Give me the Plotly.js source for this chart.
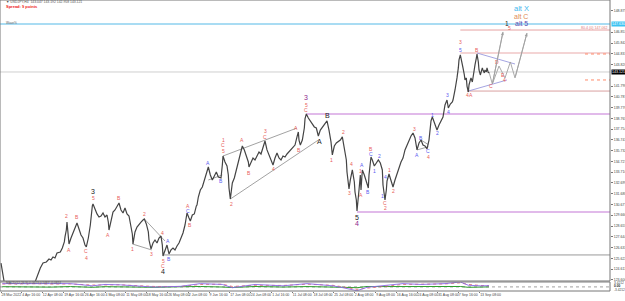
<!DOCTYPE html>
<html><head><meta charset="utf-8">
<script src="https://cdn.plot.ly/plotly-3.0.1.min.js"></script>
<style>html,body{margin:0;padding:0;background:#fff;}#chart{width:625px;height:301px;}</style>
</head><body><div id="chart"></div>
<script>
// ---- price path (H4 bar index, price) ----
const pricePath = [[0,125.18],[2,124.34],[5,123.31],[9,122.46],[14,121.71],[18,121.52],[23,122.09],[27,121.90],[32,122.37],[36,122.65],[41,122.84],[45,122.74],[50,123.21],[53,123.78],[56,124.15],[59,124.72],[63,125.18],[68,125.28],[72,125.56],[75,125.47],[78,125.75],[81,125.65],[84,126.12],[89,126.22],[92,126.59],[95,127.16],[96,127.63],[98,128.28],[99,129.03],[101,127.81],[102,126.97],[105,127.53],[108,128.10],[111,128.47],[114,128.94],[117,128.28],[120,127.81],[123,127.53],[126,126.87],[128,126.69],[131,127.53],[134,128.75],[135,129.69],[137,130.54],[138,130.72],[141,130.16],[144,129.79],[147,129.50],[150,129.60],[153,129.88],[156,129.50],[159,129.69],[161,129.03],[162,128.28],[165,129.22],[168,129.97],[171,130.16],[174,130.44],[177,130.82],[180,130.16],[183,129.88],[186,130.35],[189,129.79],[192,129.60],[195,128.75],[197,127.91],[198,126.97],[201,128.10],[204,128.56],[207,128.85],[210,129.03],[213,129.22],[215,129.32],[218,128.85],[221,128.10],[222,127.34],[225,126.50],[228,127.06],[231,127.34],[234,127.06],[237,127.53],[240,127.72],[242,126.87],[243,125.84],[246,126.41],[249,126.87],[252,126.03],[255,126.41],[258,126.59],[261,126.41],[264,126.78],[267,127.06],[270,127.53],[273,128.00],[276,128.75],[278,129.41],[279,129.88],[282,129.41],[284,129.13],[287,129.69],[290,129.79],[293,130.54],[294,130.63],[296,131.38],[299,132.04],[302,132.32],[305,132.98],[308,133.73],[311,134.20],[314,133.45],[317,132.98],[320,133.35],[323,133.73],[326,133.26],[330,133.17],[332,134.39],[333,135.23],[336,134.67],[339,134.29],[341,133.45],[342,132.23],[344,131.19],[347,132.70],[350,133.17],[353,133.92],[356,134.57],[359,135.33],[362,136.17],[365,135.80],[368,135.23],[371,134.67],[372,134.20],[375,134.57],[378,135.04],[381,134.86],[384,135.33],[387,135.61],[390,135.42],[393,135.98],[396,136.64],[399,135.80],[402,135.33],[405,134.86],[408,134.39],[411,135.04],[414,135.51],[417,135.04],[420,134.86],[423,135.23],[426,135.14],[429,135.42],[432,135.61],[435,135.80],[438,135.98],[441,136.26],[444,137.02],[446,137.49],[447,136.73],[449,136.26],[452,136.73],[455,137.86],[456,138.71],[458,139.18],[461,138.80],[464,138.52],[467,138.24],[470,137.96],[473,137.86],[476,137.11],[479,137.67],[482,137.96],[485,138.24],[488,138.42],[489,138.52],[492,137.67],[495,136.55],[497,135.33],[500,136.17],[503,136.45],[506,136.55],[509,136.73],[512,137.02],[515,135.98],[518,134.86],[519,133.73],[521,132.51],[522,132.13],[524,132.98],[527,133.92],[530,132.79],[531,131.85],[533,131.10],[534,130.07],[537,132.04],[539,133.45],[540,132.04],[542,133.92],[545,133.45],[548,132.79],[551,132.23],[552,133.45],[554,134.67],[555,135.14],[557,134.86],[560,134.29],[563,134.57],[566,134.86],[569,134.57],[572,133.92],[573,132.51],[576,131.10],[578,132.04],[579,132.88],[582,133.54],[585,132.98],[588,132.32],[591,132.98],[594,133.64],[597,134.11],[600,134.67],[603,135.04],[606,135.80],[609,136.26],[612,136.73],[615,137.11],[618,137.39],[621,136.92],[624,135.80],[627,136.45],[630,136.73],[633,136.26],[636,136.17],[639,135.89],[642,136.73],[644,137.67],[645,138.52],[647,138.89],[650,138.42],[653,137.86],[654,137.67],[657,138.14],[660,138.61],[663,138.89],[666,140.02],[669,140.49],[671,139.74],[674,140.11],[677,140.30],[678,140.49],[681,141.43],[683,141.99],[684,142.56],[686,143.50],[687,144.25],[689,144.72],[690,144.43],[692,144.06],[693,143.50],[695,142.84],[696,142.37],[698,142.56],[699,141.80],[701,141.24],[702,141.90],[704,142.37],[705,142.56],[707,142.18],[708,142.65],[710,143.12],[711,143.78],[713,144.43],[714,144.81],[716,144.06],[717,143.31],[719,142.84],[720,143.12],[722,143.50],[723,143.31],[725,143.03],[726,143.31],[728,143.12],[729,143.50],[731,143.03],[732,143.12]];

// ---- axis labels ----
const xTickBars = [0,31,62,94,125,156,187,218,250,281,312,343,374,406,437,468,499,530,562,593,624,655,686,718];
const xTickLabels = ["28 Mar 2022","4 Apr 16:00","12 Apr 08:00","19 Apr 16:00","26 Apr 16:00","4 May 08:00","11 May 08:00","18 May 16:00","26 May 08:00","2 Jun 08:00","9 Jun 16:00","17 Jun 08:00","24 Jun 08:00","1 Jul 16:00","11 Jul 08:00","18 Jul 08:00","25 Jul 08:00","2 Aug 08:00","9 Aug 08:00","16 Aug 16:00","24 Aug 08:00","31 Aug 08:00","7 Sep 16:00","13 Sep 08:00"];
const yTickPrices = [148.875,146.853,145.842,144.831,143.820,141.798,140.787,139.776,138.765,137.754,136.743,135.732,134.721,133.710,132.699,131.688,130.677,129.666,128.655,127.644,126.633,125.622,124.611,123.600];

// ---- horizontal levels ----
const levelPrices = [147.63,147.06,144.90,143.12,141.33,139.18,129.97,125.94];
const levelStartBars = [-2,689,689,-2,699,458,534,243];
const levelColors = ['#a9dcf3','#e6a3a3','#f1c6c6','#cfcfcf','#d9a0a0','#d7a3e3','#d7a3e3','#9a9a9a'];
const levelWidths = [2,1,1.5,1,1,1.5,1.5,1];
const dottedPrices = [144.81,142.37];
const dottedStartBar = 876;

// ---- trend lines [bar1, price1, bar2, price2] ----
const trendLines = [[197,126.97,226,126.41],[215,129.32,246,127.25],[333,135.23,444,137.86],[344,131.19,476,136.73],[311,132.98,332,133.45],[624,135.80,641,136.10],[630,136.73,641,136.30]];
const wedgeLines = [[714,144.90,771,143.87],[701,141.33,759,142.37]];
// projection paths
const projA = [[732,143.12],[737,141.99],[753,146.88]];
const projB = [[737,141.99],[747,143.68],[756,142.56],[764,144.06],[771,142.56],[789,146.78]];

// ---- wave labels ----
const waveBars = [98,102,114,128,128,138,138,161,177,197,215,225,242,243,243,243,251,252,281,281,284,311,330,333,333,333,345,362,372,396,396,408,443,447,458,458,458,477,489,495,513,525,522,534,534,539,540,542,551,555,555,560,567,572,576,576,576,582,588,620,624,630,641,641,647,654,669,671,689,689,699,705,714,735,744,753,755,762];
const wavePrices = [129.60,126.41,129.50,126.31,125.65,131.94,131.29,127.81,131.29,126.50,129.79,126.03,128.00,125.37,124.90,124.43,127.25,125.56,130.54,130.07,128.75,134.57,132.88,136.78,136.22,135.68,130.72,136.73,133.64,137.62,137.02,134.01,137.86,135.80,140.77,140.02,139.55,136.64,138.99,134.86,137.49,134.48,131.76,129.50,128.85,133.82,131.57,134.39,131.85,135.89,135.42,133.82,135.23,131.48,133.26,130.82,130.35,133.92,131.94,137.77,135.33,136.92,135.70,135.14,139.08,137.39,140.96,139.36,145.94,145.19,140.96,140.96,145.19,141.80,144.06,142.84,142.37,147.25];
const waveTexts = ['2','A','B','C','4','3','5','A','B','1','2','3','4','5','C','4','A','B','A','C','B','A','B','1','C','5','2','A','B','3','C','4','A','B','3','5','C','A','B','1','2','4','3','5','4','1','A','A','B','B','C','1','2','1','4','C','2','1','2','3','A','B','C','4','1','2','3','4','3','5','4','A','B','C','D','E','4','5'];
const waveKinds = ['r','r','r','r','r','k','r','r','r','r','r','r','r','r','r','k','b','b','r','b','r','b','b','r','r','r','r','r','r','r','r','r','r','r','p','r','r','k','k','r','r','r','r','k','p','r','r','b','b','r','b','b','b','b','b','r','r','r','r','r','b','b','b','r','b','b','b','b','r','b','r','r','r','r','r','r','r','r'];

// ---- MACD panel ----
const macdBars = [2,29,51,74,104,137,156,179,198,231,269,299,332,347,381,423,459,479,498,513,534,549,570,603,630,666,689,701,719,732];
const macdMain = [0.8,0.8,0.8,0.66,0.8,0.26,0.6,0.5,0.26,-0.06,0.14,0.8,0.6,-0.2,0.6,0.26,0.8,0.5,0.26,-0.2,-0.94,-0.1,0.26,0.8,0.6,0.8,1.2,0.4,0.26,0.3];
const macdSignal = [0.7,0.8,0.78,0.7,0.72,0.45,0.5,0.52,0.35,0.1,0.1,0.6,0.66,0.1,0.4,0.35,0.66,0.6,0.38,0.0,-0.6,-0.3,0.1,0.6,0.66,0.72,1.0,0.6,0.35,0.3];
const macdHist = [0.05,0,0.02,-0.05,0.08,-0.1,0.05,0,-0.05,-0.1,0.03,0.1,-0.03,-0.15,0.1,-0.04,0.08,-0.05,-0.06,-0.1,-0.2,0.1,0.08,0.1,-0.04,0.04,0.1,-0.1,-0.05,0];

const XMAX = 913.5, XMIN = -1.5;
const COL = {r:'#e8605a', b:'#5a5af0', k:'#1a1a1a', p:'#8e2a8e'};
const traces = [];

function segTrace(lines, color, width, dash){
  const x=[], y=[];
  lines.forEach(l=>{x.push(l[0],l[2],null); y.push(l[1],l[3],null);});
  return {type:'scatter', mode:'lines', x, y, line:{color, width, dash:dash||'solid'}, hoverinfo:'skip'};
}
levelPrices.forEach((p,i)=>{
  traces.push({type:'scatter',mode:'lines',x:[levelStartBars[i],XMAX],y:[p,p],line:{color:levelColors[i],width:levelWidths[i]},hoverinfo:'skip'});
});
dottedPrices.forEach(p=>{
  traces.push({type:'scatter',mode:'lines',x:[dottedStartBar,XMAX],y:[p,p],line:{color:'#ff8a6a',width:1,dash:'dot'},hoverinfo:'skip'});
});
traces.push(segTrace(trendLines,'#8a8a8a',0.8));
traces.push(segTrace(wedgeLines,'#9a9ade',0.9));
traces.push({type:'scatter',mode:'lines',x:projA.map(p=>p[0]),y:projA.map(p=>p[1]),line:{color:'#a0a0a0',width:0.9},hoverinfo:'skip'});
traces.push({type:'scatter',mode:'lines',x:projB.map(p=>p[0]),y:projB.map(p=>p[1]),line:{color:'#a0a0a0',width:0.9},hoverinfo:'skip'});
traces.push({type:'scatter',mode:'lines',x:pricePath.map(p=>p[0]),y:pricePath.map(p=>p[1]),line:{color:'#444',width:1.2},hoverinfo:'skip'});
traces.push({type:'scatter',mode:'lines',x:[XMIN,XMAX],y:[0,0],xaxis:'x',yaxis:'y2',line:{color:'#888',width:0.8,dash:'dot'},hoverinfo:'skip'});
traces.push({type:'scatter',mode:'lines',x:macdBars,y:macdHist,xaxis:'x',yaxis:'y2',line:{color:'#2e9e2e',width:1},hoverinfo:'skip'});
traces.push({type:'scatter',mode:'lines',x:macdBars,y:macdSignal,xaxis:'x',yaxis:'y2',line:{color:'#e05a5a',width:0.8,dash:'dot'},hoverinfo:'skip'});
traces.push({type:'scatter',mode:'lines',x:macdBars,y:macdMain,xaxis:'x',yaxis:'y2',line:{color:'#8a6ae8',width:0.9},hoverinfo:'skip'});

const ann = [];
waveBars.forEach((b,i)=>{
  const k = waveKinds[i];
  const big = (k==='k'||k==='p');
  ann.push({x:b,y:wavePrices[i],xref:'x',yref:'y',text:waveTexts[i],showarrow:false,
    font:{family:'Liberation Sans, Arial',size:big?7:5,color:COL[k]},xanchor:'center',yanchor:'middle'});
});
ann.push({x:780,y:149.05,text:'alt X',showarrow:false,font:{family:'Liberation Sans',size:7.5,color:'#45b8ee'},xanchor:'center',yanchor:'middle'});
ann.push({x:780,y:148.36,text:'alt C',showarrow:false,font:{family:'Liberation Sans',size:7,color:'#e08a55'},xanchor:'center',yanchor:'middle'});
ann.push({x:780,y:147.72,text:'alt 5',showarrow:false,font:{family:'Liberation Sans',size:7,color:'#5a4bb0'},xanchor:'center',yanchor:'middle'});
ann.push({x:759,y:147.72,text:'1',showarrow:false,font:{family:'Liberation Sans',size:6.5,color:'#1a1a1a'},xanchor:'center',yanchor:'middle'});
[[projA[1],projA[2]],[projB[4],projB[5]]].forEach(pr=>{
  ann.push({x:pr[1][0],y:pr[1][1],ax:pr[0][0],ay:pr[0][1],xref:'x',yref:'y',axref:'x',ayref:'y',showarrow:true,arrowhead:2,arrowsize:0.7,arrowwidth:0.9,arrowcolor:'#a0a0a0',text:''});
});
ann.push({xref:'paper',x:1.002,y:143.12,yref:'y',text:'143.121',showarrow:false,xanchor:'left',yanchor:'middle',bgcolor:'#000',font:{family:'Liberation Sans',size:3.6,color:'#fff'},borderpad:0});
ann.push({xref:'paper',x:1.002,y:147.63,yref:'y',text:'147.630',showarrow:false,xanchor:'left',yanchor:'middle',bgcolor:'#3cc3f2',font:{family:'Liberation Sans',size:3.6,color:'#fff'},borderpad:0});
ann.push({xref:'paper',x:0.999,y:147.25,yref:'y',text:'80.4 (0) 147.062',showarrow:false,xanchor:'right',yanchor:'middle',font:{family:'Liberation Sans',size:3.6,color:'#e07878'}});
ann.push({xref:'paper',yref:'paper',x:0.006,y:0.993,text:'\u25BC USDJPY,H4  143.047 143.192 142.958 143.121',showarrow:false,xanchor:'left',yanchor:'middle',font:{family:'Liberation Sans',size:3.4,color:'#555'}});
ann.push({xref:'paper',yref:'paper',x:0.006,y:0.977,text:'<b>Spread: 9 points</b>',showarrow:false,xanchor:'left',yanchor:'middle',font:{family:'Liberation Sans',size:4,color:'#ee2222'}});
ann.push({xref:'paper',yref:'paper',x:0.006,y:0.921,text:'Wave%',showarrow:false,xanchor:'left',yanchor:'middle',font:{family:'Liberation Sans',size:3.2,color:'#666'}});
ann.push({xref:'paper',yref:'paper',x:0.006,y:0.028,text:'MACD(12,26,9) 0.0613 0.1487 -0.0874',showarrow:false,xanchor:'left',yanchor:'middle',font:{family:'Liberation Sans',size:3.2,color:'#555'}});
ann.push({xref:'paper',yref:'paper',x:1.004,y:0.029,text:'3.4212',showarrow:false,xanchor:'left',yanchor:'middle',font:{family:'Liberation Sans',size:3.2,color:'#444'}});
ann.push({xref:'paper',yref:'paper',x:1.004,y:0.016,text:'<b>0.00</b>',showarrow:false,xanchor:'left',yanchor:'middle',font:{family:'Liberation Sans',size:3.2,color:'#222'}});
ann.push({xref:'paper',yref:'paper',x:1.004,y:0.003,text:'-3.4212',showarrow:false,xanchor:'left',yanchor:'middle',font:{family:'Liberation Sans',size:3.2,color:'#444'}});

const shapes = [
  {type:'rect',xref:'paper',yref:'paper',x0:0,x1:1,y0:0.0344,y1:1,line:{color:'#777',width:1}},
  {type:'rect',xref:'paper',yref:'paper',x0:0,x1:1,y0:0,y1:0.031,line:{color:'#777',width:1}}
];

const layout = {
  width:625,height:301,margin:{l:0,r:15,t:0,b:10},
  paper_bgcolor:'#fff',plot_bgcolor:'#fff',showlegend:false,
  xaxis:{range:[XMIN,XMAX],tickvals:xTickBars,ticktext:xTickLabels,ticks:'outside',ticklen:1,tickcolor:'#777',tickangle:0,
    tickfont:{family:'Liberation Sans',size:3.5,color:'#444'},ticklabelposition:'outside right',
    showgrid:false,zeroline:false,showline:false,anchor:'y2',automargin:false},
  yaxis:{domain:[0.0344,1],range:[123.494,149.88],side:'right',tickvals:yTickPrices,ticktext:yTickPrices.map(v=>v.toFixed(3)),
    ticks:'outside',ticklen:2,tickcolor:'#777',tickfont:{family:'Liberation Sans',size:3.5,color:'#444'},
    showgrid:false,zeroline:false,showline:false,automargin:false},
  yaxis2:{domain:[0,0.031],range:[-1,1.2],side:'right',showticklabels:false,ticks:'',showgrid:false,zeroline:false,showline:false},
  annotations:ann,shapes:shapes
};
Plotly.newPlot('chart',traces,layout,{staticPlot:true,displayModeBar:false});
</script></body></html>
